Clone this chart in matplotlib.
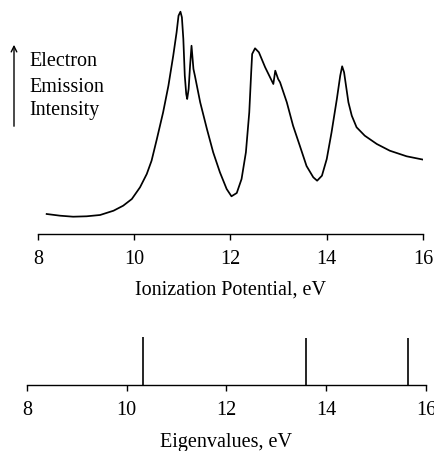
import matplotlib
matplotlib.use("Agg")
import matplotlib.pyplot as plt

# Photoelectron spectrum, intensity in arbitrary units
ip_ev = [8.18, 8.46, 8.73, 9.01, 9.29, 9.57, 9.77, 9.95, 10.12, 10.26, 10.36,
         10.47, 10.60, 10.71, 10.81, 10.88, 10.92, 10.96, 10.99, 11.02, 11.05,
         11.08, 11.10, 11.13, 11.16, 11.19, 11.23, 11.26, 11.37, 11.51, 11.64,
         11.78, 11.92, 12.02, 12.13, 12.23, 12.32, 12.39, 12.43, 12.45, 12.51,
         12.59, 12.72, 12.89, 12.93, 12.99, 13.03, 13.17, 13.30, 13.44, 13.58,
         13.72, 13.80, 13.90, 14.00, 14.10, 14.21, 14.28, 14.32, 14.36, 14.38,
         14.45, 14.52, 14.62, 14.79, 15.04, 15.31, 15.66, 16.01]
intensity = [20, 18.3, 17.3, 17.7, 19, 23.3, 28.3, 35, 46.7, 60, 73.3,
             95, 121.7, 148.3, 178.3, 201.7, 218.3, 222.3, 216.7, 195, 158.3,
             140, 135, 145, 168.3, 188.3, 165, 158.3, 131.7, 105, 81.7,
             61.7, 45, 37.7, 41, 55, 81.7, 121.7, 161.7, 180, 185.7,
             181.7, 166.7, 150, 163.3, 155, 151.7, 131.7, 108.3, 88.3, 68,
             56.7, 53.3, 58.3, 75, 101.7, 135, 158.3, 167.7, 161.7, 155,
             131.7, 118.3, 106.7, 98.3, 90, 83.3, 77.7, 74.3]

# Eigenvalues
eigenvalues = [10.33, 13.60, 15.63]
eig_heights = [48, 47, 47]

ticks = [8, 10, 12, 14, 16]
tick_labels = ["8", "10", "12", "14", "16"]

plt.rcParams['font.family'] = ['Liberation Serif', 'DejaVu Serif']
W, H = 435, 452
fig = plt.figure(figsize=(W / 100, H / 100), dpi=100)

def axes_px(x0, x1, ytop, ybot):
    return fig.add_axes([x0 / W, (H - ybot) / H, (x1 - x0) / W, (ybot - ytop) / H])

FS = 14.5

# Top panel
ax1 = axes_px(38, 423, 0, 235)
ax1.plot(ip_ev, intensity, color='black', lw=1.25, solid_joinstyle='round')
ax1.set_xlim(8, 16)
ax1.set_ylim(0, 235)
for s in ['top', 'right', 'left']:
    ax1.spines[s].set_visible(False)
ax1.spines['bottom'].set_linewidth(1.0)
ax1.set_yticks([])
ax1.set_xticks(ticks)
ax1.set_xticklabels(tick_labels, fontsize=FS)
ax1.tick_params(axis='x', direction='out', length=4, width=1.0, pad=7)
ax1.set_xlabel("Ionization Potential, eV", fontsize=FS, labelpad=8)
ax1.patch.set_alpha(0)

# Intensity annotation
for txt, yc in [("Electron", 62), ("Emission", 87), ("Intensity", 111)]:
    fig.text(29 / W, 1 - yc / H, txt, fontsize=FS, va='center', ha='left')
fig.add_artist(matplotlib.patches.FancyArrowPatch(
    (14 / W, 1 - 130 / H), (14 / W, 1 - 43 / H), transform=fig.transFigure,
    arrowstyle='->', mutation_scale=10, lw=1.0, color='black'))

# Bottom panel
ax2 = axes_px(27, 426, 326, 386)
ax2.vlines(eigenvalues, 0, eig_heights, color='black', lw=1.2)
ax2.set_xlim(8, 16)
ax2.set_ylim(0, 60)
for s in ['top', 'right', 'left']:
    ax2.spines[s].set_visible(False)
ax2.spines['bottom'].set_linewidth(1.0)
ax2.set_yticks([])
ax2.set_xticks(ticks)
ax2.set_xticklabels(tick_labels, fontsize=FS)
ax2.tick_params(axis='x', direction='out', length=4, width=1.0, pad=7)
ax2.set_xlabel("Eigenvalues, eV", fontsize=FS, labelpad=9)
ax2.patch.set_alpha(0)

fig.savefig("out.png", dpi=100)
